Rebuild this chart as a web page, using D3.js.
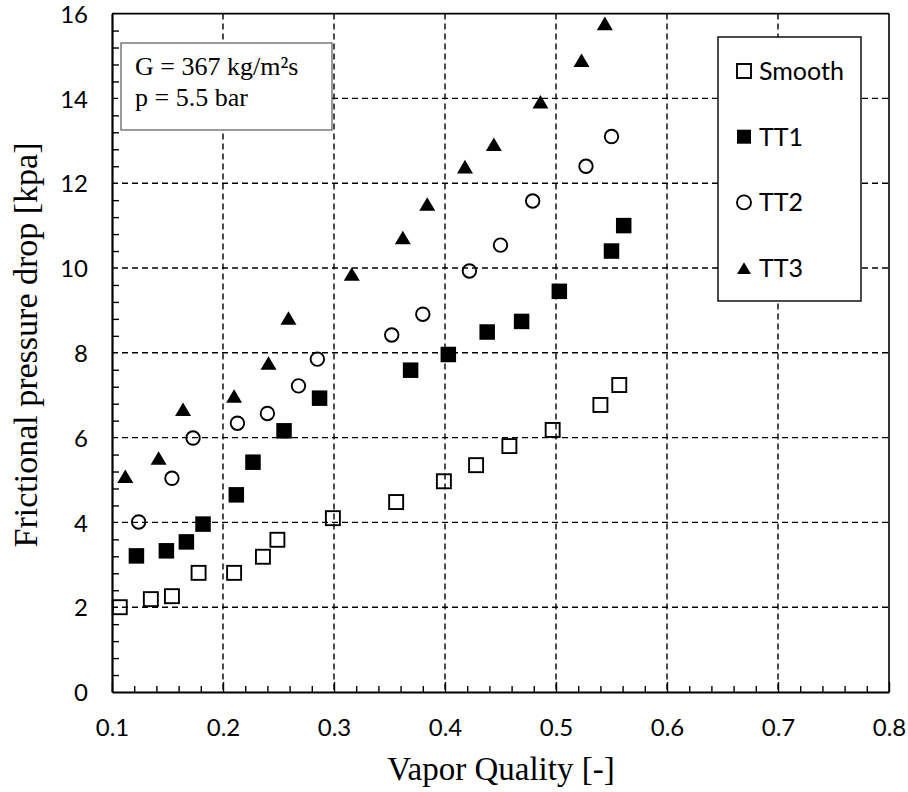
<!DOCTYPE html>
<html lang="en">
<head>
<meta charset="utf-8">
<title>Frictional pressure drop</title>
<script src="https://cdn.jsdelivr.net/npm/d3@7"></script>
<style>
  body { margin: 0; background: #fff; }
  #chart { width: 908px; height: 792px; }
  .tick text { font-family: Lato, "Open Sans", sans-serif; font-size: 24px; fill: #000; }
  .serif { font-family: "Liberation Serif", "Times New Roman", serif; fill: #000; }
</style>
</head>
<body>
<div id="chart"></div>
<script>
// data
var smoothX = [0.107, 0.135, 0.154, 0.178, 0.210, 0.236, 0.249, 0.299, 0.356, 0.399, 0.428, 0.458, 0.497, 0.540, 0.557];
var smoothY = [2.00, 2.19, 2.26, 2.81, 2.81, 3.19, 3.59, 4.10, 4.48, 4.97, 5.35, 5.80, 6.18, 6.77, 7.24];
var tt1X = [0.122, 0.149, 0.167, 0.182, 0.212, 0.227, 0.255, 0.287, 0.369, 0.403, 0.438, 0.469, 0.503, 0.550, 0.561];
var tt1Y = [3.21, 3.33, 3.54, 3.96, 4.65, 5.42, 6.16, 6.93, 7.59, 7.96, 8.49, 8.74, 9.45, 10.40, 11.00];
var tt2X = [0.124, 0.154, 0.173, 0.213, 0.240, 0.268, 0.285, 0.352, 0.380, 0.422, 0.450, 0.479, 0.527, 0.550];
var tt2Y = [4.01, 5.04, 5.99, 6.34, 6.57, 7.22, 7.85, 8.42, 8.91, 9.93, 10.54, 11.58, 12.40, 13.10];
var tt3X = [0.112, 0.142, 0.164, 0.210, 0.241, 0.259, 0.316, 0.362, 0.384, 0.418, 0.444, 0.486, 0.523, 0.544];
var tt3Y = [5.09, 5.52, 6.67, 6.98, 7.76, 8.82, 9.86, 10.72, 11.51, 12.39, 12.92, 13.92, 14.90, 15.77];

var seriesNames = ["Smooth", "TT1", "TT2", "TT3"];
var xTicks = [0.1, 0.2, 0.3, 0.4, 0.5, 0.6, 0.7, 0.8];
var yTicks = [0, 2, 4, 6, 8, 10, 12, 14, 16];
var noteLines = ["G = 367 kg/m\u00B2s", "p = 5.5 bar"];

var series = [
  { name: "Smooth", xs: smoothX, ys: smoothY, shape: "square", filled: false },
  { name: "TT1", xs: tt1X, ys: tt1Y, shape: "square", filled: true },
  { name: "TT2", xs: tt2X, ys: tt2Y, shape: "circle", filled: false },
  { name: "TT3", xs: tt3X, ys: tt3Y, shape: "triangle", filled: true }
];

var W = 908, H = 792;
var plotL = 112, plotR = 889, plotT = 13.6, plotB = 692;

var svg = d3.select("#chart").append("svg")
  .attr("width", W)
  .attr("height", H);

var x = d3.scaleLinear().domain([0.1, 0.8]).range([plotL, plotR]);
var y = d3.scaleLinear().domain([0, 16]).range([plotB, plotT]);

// grid
var grid = svg.append("g");
grid.selectAll(".vg")
  .data(xTicks.slice(1, -1))
  .enter().append("line")
  .attr("x1", function(d) { return x(d); })
  .attr("x2", function(d) { return x(d); })
  .attr("y1", y(16)).attr("y2", y(0))
  .attr("stroke", "#000").attr("stroke-width", 1.4)
  .attr("stroke-dasharray", "6,4");
grid.selectAll(".hg")
  .data(yTicks.slice(1, -1))
  .enter().append("line")
  .attr("y1", function(d) { return y(d); })
  .attr("y2", function(d) { return y(d); })
  .attr("x1", x(0.1)).attr("x2", x(0.8))
  .attr("stroke", "#000").attr("stroke-width", 1.4)
  .attr("stroke-dasharray", "6,4");

// frame: top and right
svg.append("line").attr("x1", x(0.1)).attr("x2", x(0.8)).attr("y1", y(16)).attr("y2", y(16))
  .attr("stroke", "#000").attr("stroke-width", 1.6);
svg.append("line").attr("x1", x(0.8)).attr("x2", x(0.8)).attr("y1", y(16)).attr("y2", y(0))
  .attr("stroke", "#000").attr("stroke-width", 1.6);

// minor ticks (inside)
var xMinor = d3.range(0.12, 0.8, 0.02).filter(function(d) { return Math.abs(d * 10 - Math.round(d * 10)) > 0.01; });
var yMinor = d3.range(0.4, 16, 0.4).filter(function(d) { return Math.abs(d / 2 - Math.round(d / 2)) > 0.01; });

svg.append("g")
  .attr("transform", "translate(0," + y(0) + ")")
  .call(d3.axisBottom(x).tickValues(xMinor).tickSize(-6).tickFormat(""))
  .call(function(g) { g.select(".domain").remove(); })
  .selectAll("line").attr("stroke-width", 1.4);

svg.append("g")
  .attr("transform", "translate(" + x(0.1) + ",0)")
  .call(d3.axisLeft(y).tickValues(yMinor).tickSize(-7).tickFormat(""))
  .call(function(g) { g.select(".domain").remove(); })
  .selectAll("line").attr("stroke-width", 1.4);

// main axes
var xAxis = svg.append("g")
  .attr("transform", "translate(0," + y(0) + ")")
  .call(d3.axisBottom(x).tickValues(xTicks).tickSize(-10).tickPadding(37).tickSizeOuter(0)
    .tickFormat(d3.format(".1f")));
xAxis.select(".domain").attr("stroke-width", 2.2);
xAxis.selectAll(".tick line").attr("stroke-width", 1.4);
xAxis.selectAll(".tick text").attr("dy", "0.3em");

var yAxis = svg.append("g")
  .attr("transform", "translate(" + x(0.1) + ",0)")
  .call(d3.axisLeft(y).tickValues(yTicks).tickSize(0).tickPadding(24).tickSizeOuter(0));
yAxis.select(".domain").attr("stroke-width", 2.2);
yAxis.selectAll(".tick text").attr("dy", "0.36em");

// axis titles
svg.append("text").attr("class", "serif")
  .attr("x", 501).attr("y", 780)
  .attr("text-anchor", "middle")
  .style("font-size", "33px")
  .text("Vapor Quality [-]");

svg.append("text").attr("class", "serif")
  .attr("transform", "translate(37,345) rotate(-90)")
  .attr("text-anchor", "middle")
  .style("font-size", "34px")
  .text("Frictional pressure drop [kpa]");

// markers
function drawMarker(sel, shape, filled, size) {
  var h = size / 2;
  var m;
  if (shape === "square") {
    m = sel.append("rect").attr("x", -h).attr("y", -h).attr("width", size).attr("height", size);
  } else if (shape === "circle") {
    m = sel.append("circle").attr("r", h);
  } else {
    var th = size * 0.85;
    m = sel.append("path").attr("d", "M0," + (-th / 2) + "L" + h + "," + (th / 2) + "L" + (-h) + "," + (th / 2) + "Z");
  }
  m.attr("fill", filled ? "#000" : "none")
    .attr("stroke", "#000")
    .attr("stroke-width", filled ? 0 : 1.9);
}

series.forEach(function(s) {
  var size = s.shape === "circle" ? 13.5 : (s.shape === "triangle" ? 16 : (s.filled ? 15.5 : 14));
  var pts = s.xs.map(function(v, i) { return [v, s.ys[i]]; });
  svg.append("g").selectAll("g")
    .data(pts)
    .enter().append("g")
    .attr("transform", function(d) { return "translate(" + x(d[0]) + "," + y(d[1]) + ")"; })
    .each(function() { drawMarker(d3.select(this), s.shape, s.filled, size); });
});

// note box
var note = svg.append("g");
note.append("rect")
  .attr("x", 121).attr("y", 43).attr("width", 211).attr("height", 87)
  .attr("fill", "#fff").attr("stroke", "#595959").attr("stroke-width", 1.2);
note.selectAll("text")
  .data(noteLines)
  .enter().append("text").attr("class", "serif")
  .attr("x", 135)
  .attr("y", function(d, i) { return 75 + i * 31; })
  .style("font-size", "26px")
  .text(function(d) { return d; });

// legend
var legend = svg.append("g");
legend.append("rect")
  .attr("x", 718).attr("y", 37).attr("width", 143).attr("height", 264)
  .attr("fill", "#fff").attr("stroke", "#000").attr("stroke-width", 1.4);
var items = legend.selectAll(".leg")
  .data(series)
  .enter().append("g")
  .attr("transform", function(d, i) { return "translate(744," + (71 + i * 65.7) + ")"; });
items.each(function(d) { drawMarker(d3.select(this), d.shape, d.filled, 14); });
items.append("text")
  .attr("x", 15).attr("dy", "0.36em")
  .style("font-family", "Lato, 'Open Sans', sans-serif")
  .style("font-size", "25px")
  .text(function(d, i) { return seriesNames[i]; });
</script>
</body>
</html>
